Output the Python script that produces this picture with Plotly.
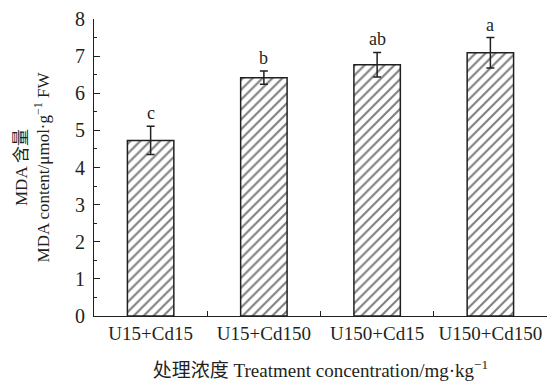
import plotly.graph_objects as go

# MDA content per treatment (mean ± error)
treatments = ["U15+Cd15", "U15+Cd150", "U150+Cd15", "U150+Cd150"]
mda_mean = [4.73, 6.42, 6.77, 7.09]
mda_err = [0.38, 0.18, 0.33, 0.41]
sig_letters = ["c", "b", "ab", "a"]

ink = "#231f20"
serif = '"Liberation Serif", "Times New Roman", "Noto Sans CJK SC", serif'

fig = go.Figure()
fig.add_trace(go.Bar(
    x=treatments,
    y=mda_mean,
    width=0.41,
    marker=dict(
        color="white",
        line=dict(color=ink, width=1.5),
        pattern=dict(shape="/", fgcolor="black", bgcolor="white", size=7, solidity=0.3),
    ),
    error_y=dict(type="data", array=mda_err, visible=True,
                 color=ink, thickness=1.5, width=4),
    showlegend=False,
))

# significance letters above each error bar
for t, m, e, s in zip(treatments, mda_mean, mda_err, sig_letters):
    fig.add_annotation(x=t, y=m + e, text=s, showarrow=False,
                       yanchor="bottom", yshift=1,
                       font=dict(family=serif, size=18, color=ink))

fig.update_layout(
    width=555, height=385,
    margin=dict(l=94, r=8, t=15, b=67),
    paper_bgcolor="white", plot_bgcolor="white",
    font=dict(family=serif, color=ink),
)
fig.update_xaxes(
    type="category",
    range=[-0.5, 3.5],
    showline=True, linecolor=ink, linewidth=1.2,
    ticks="inside", tickson="boundaries", ticklen=5, tickcolor=ink, tickwidth=1.2,
    tickfont=dict(family=serif, size=19, color=ink),
    title=dict(text="处理浓度 Treatment concentration/mg·kg<sup>−1</sup>",
               font=dict(family=serif, size=19, color=ink), standoff=20),
    showgrid=False, zeroline=False,
)
fig.update_yaxes(
    range=[0, 8],
    tickvals=[0, 1, 2, 3, 4, 5, 6, 7, 8],
    showline=True, linecolor=ink, linewidth=1.2,
    ticks="inside", ticklen=6, tickcolor=ink, tickwidth=1.2,
    minor=dict(dtick=0.5, ticks="inside", ticklen=3, tickcolor=ink, tickwidth=1),
    tickfont=dict(family=serif, size=20, color=ink),
    ticklabelstandoff=4,
    title=dict(text="MDA 含量<br>MDA content/μmol·g<sup>−1</sup> FW",
               font=dict(family=serif, size=17, color=ink), standoff=20),
    showgrid=False, zeroline=False,
)

fig.write_html("out.html")
